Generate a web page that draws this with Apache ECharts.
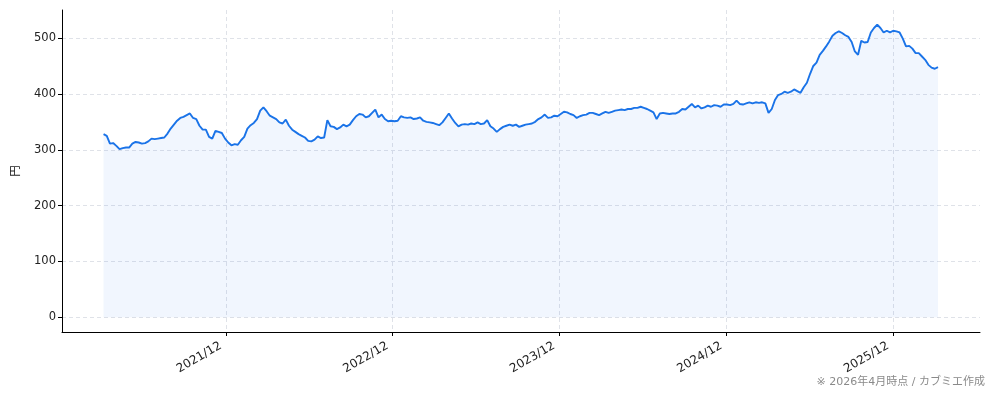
<!DOCTYPE html>
<html>
<head>
<meta charset="utf-8">
<script src="https://cdn.jsdelivr.net/npm/echarts@6/dist/echarts.min.js"></script>
<style>
html,body{margin:0;padding:0;background:#fff;}
#chart{width:994px;height:401px;}
</style>
</head>
<body>
<div id="chart"></div>
<script>
// weekly closing prices (円), first week starting startDate
const startDate = '2021-03-08';
const stepDays = 7;
const prices = [
328,325,311,312,307,301,303,304,304,311,314,313,311,312,315,320,319,320,321,322,
329,338,345,352,357,359,362,365,357,355,343,336,336,323,320,334,332,330,320,313,
308,310,309,317,323,338,344,348,355,370,376,369,361,358,355,349,347,354,343,336,
332,328,325,322,316,315,318,324,321,322,353,342,341,337,340,345,342,345,353,360,
364,363,358,360,366,372,358,363,355,351,352,351,352,360,358,357,358,355,356,358,
352,350,349,348,346,344,349,357,365,356,348,342,345,346,345,347,346,349,346,347,
353,342,338,332,337,341,343,345,343,345,341,343,345,346,347,350,355,358,363,357,
358,361,360,364,368,367,364,362,357,360,362,363,366,366,364,362,365,368,366,368,
370,371,372,371,373,373,375,375,377,375,373,370,367,355,365,366,365,364,365,365,
368,373,372,377,382,376,379,374,376,379,377,380,379,377,381,381,380,382,388,382,
381,383,385,383,385,384,385,383,366,373,389,398,400,404,402,404,408,405,402,412,
420,436,450,456,470,477,485,494,504,509,512,509,505,502,493,476,470,495,492,493,
510,518,524,518,510,513,510,513,512,510,499,485,486,481,473,473,467,461,452,447,
445,448
];
const xTickDates = ['2021-12-01','2022-12-01','2023-12-01','2024-12-01','2025-12-01'];
const yTicks = [0,100,200,300,400,500];
const xRange = ['2020-12-07','2026-06-09'];
const yRange = [-26.2, 550.2];
const yName = '円';
const footnote = '※ 2026年4月時点 / カブミエ作成';

const DAY = 86400000;
const t0 = Date.parse(startDate + 'T00:00:00Z');
const seriesData = prices.map((v, i) => [t0 + i * stepDays * DAY, v]);
const xTicks = xTickDates.map(d => Date.parse(d + 'T00:00:00Z'));

function fmt(v) {
  const d = new Date(v);
  const m = d.getUTCMonth() + 1;
  return d.getUTCFullYear() + '/' + (m < 10 ? '0' + m : m);
}

const FONT = '"DejaVu Sans", "Noto Sans CJK JP", sans-serif';
const chart = echarts.init(document.getElementById('chart'), null, {renderer: 'canvas'});
chart.setOption({
  animation: false,
  textStyle: {fontFamily: FONT},
  grid: {left: 62, right: 14, top: 10, bottom: 69, containLabel: false},
  xAxis: {
    type: 'value',
    min: Date.parse(xRange[0] + 'T00:00:00Z'),
    max: Date.parse(xRange[1] + 'T00:00:00Z'),
    axisLine: {onZero: false, lineStyle: {color: '#000', width: 1}},
    axisTick: {show: true, length: 4, lineStyle: {color: '#000'}, customValues: xTicks},
    axisLabel: {
      customValues: xTicks,
      rotate: 30,
      margin: 10,
      padding: [0, 6, 0, 0],
      fontSize: 12,
      color: '#222',
      fontFamily: FONT,
      formatter: v => fmt(v)
    },
    splitLine: {show: true, customValues: xTicks, lineStyle: {color: '#dfe2e8', type: [4, 3], width: 1}}
  },
  yAxis: {
    type: 'value',
    min: yRange[0],
    max: yRange[1],
    name: yName,
    nameLocation: 'middle',
    nameGap: 42,
    nameRotate: 90,
    nameTextStyle: {fontSize: 11.5, color: '#222', fontFamily: '"Noto Sans CJK JP", sans-serif'},
    axisLine: {show: true, lineStyle: {color: '#000', width: 1}},
    axisTick: {show: true, length: 4, lineStyle: {color: '#000'}, customValues: yTicks},
    axisLabel: {customValues: yTicks, margin: 6, fontSize: 11.5, color: '#222', fontFamily: FONT},
    splitLine: {show: true, customValues: yTicks, lineStyle: {color: '#dfe2e8', type: [4, 3], width: 1}}
  },
  series: [{
    type: 'line',
    data: seriesData,
    showSymbol: false,
    symbol: 'none',
    lineStyle: {color: '#1a73e8', width: 1.9},
    areaStyle: {color: 'rgba(26,115,232,0.09)', origin: 0},
    z: 3
  }],
  graphic: [{
    type: 'text',
    right: 9,
    top: 377,
    style: {text: footnote, fontSize: 11, fill: '#8a8a8a', fontFamily: FONT}
  }]
});
</script>
</body>
</html>
